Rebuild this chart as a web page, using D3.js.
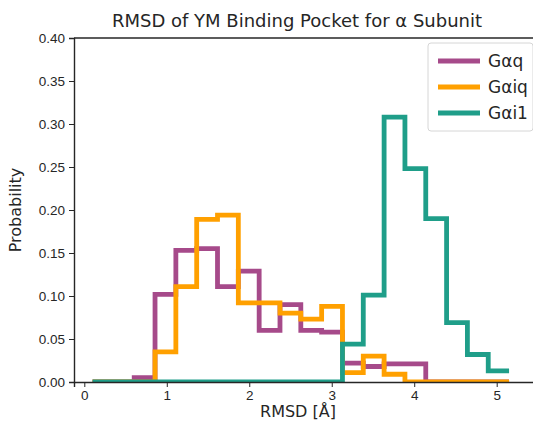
<!DOCTYPE html>
<html>
<head>
<meta charset="utf-8">
<script src="https://cdn.jsdelivr.net/npm/d3@7"></script>
<style>
  body { margin: 0; background: #fff; }
  svg { display: block; font-family: "DejaVu Sans", sans-serif; }
</style>
</head>
<body>
<div id="chart"></div>
<script>
// histogram bin edges (shared by all three series)
var binStart = 0.1;
var binWidth = 0.2525;
var binCount = 20;

var seriesNames = ["G\u03b1q", "G\u03b1iq", "G\u03b1i1"];
var seriesColors = ["#a64a8a", "#ffa000", "#1f9e89"];

// probability per bin
var galphaq = [0, 0, 0.005, 0.102, 0.153, 0.155, 0.111, 0.129, 0.060, 0.090,
               0.060, 0.058, 0.022, 0.018, 0.021, 0.021, 0, 0, 0, 0];
var galphaiq = [0, 0, 0, 0.035, 0.111, 0.189, 0.194, 0.092, 0.092, 0.080,
                0.073, 0.088, 0.011, 0.030, 0.009, 0, 0, 0, 0, 0];
var galphai1 = [0, 0, 0, 0, 0, 0, 0, 0, 0, 0,
                0, 0, 0.044, 0.101, 0.308, 0.248, 0.190, 0.069, 0.032, 0.013];

var xTicks = [0, 1, 2, 3, 4, 5];
var yTicks = [0, 0.05, 0.10, 0.15, 0.20, 0.25, 0.30, 0.35, 0.40];

var W = 533, H = 422;
var margin = {top: 38, right: -6, bottom: 40, left: 74};
var width = W - margin.left - margin.right,
    height = H - margin.top - margin.bottom;
var ink = "#262626";

var svg = d3.select("#chart").append("svg")
    .attr("width", W)
    .attr("height", H);

var g = svg.append("g")
    .attr("transform", "translate(" + margin.left + "," + margin.top + ")");

var x = d3.scaleLinear().domain([-0.125, 5.513]).range([0, width]);
var y = d3.scaleLinear().domain([0, 0.4]).range([height, 0]);

g.append("clipPath").attr("id", "plot-clip")
  .append("rect").attr("width", width).attr("height", height);

// step outline like matplotlib histtype='step'
function stepPoints(vals) {
    var pts = [[binStart, 0]];
    vals.forEach(function(v, i) {
        pts.push([binStart + i * binWidth, v]);
        pts.push([binStart + (i + 1) * binWidth, v]);
    });
    return pts;
}

var line = d3.line()
    .x(function(d) { return x(d[0]); })
    .y(function(d) { return y(d[1]); });

var plot = g.append("g").attr("clip-path", "url(#plot-clip)");
[galphaq, galphaiq, galphai1].forEach(function(vals, i) {
    plot.append("path")
        .datum(stepPoints(vals))
        .attr("fill", "none")
        .attr("stroke", seriesColors[i])
        .attr("stroke-width", 4.8)
        .attr("stroke-linejoin", "miter")
        .attr("d", line);
});

// axes
var xAxis = g.append("g")
    .attr("transform", "translate(0," + height + ")")
    .call(d3.axisBottom(x).tickValues(xTicks).tickFormat(d3.format("d")).tickSizeOuter(0).tickSize(5));
xAxis.selectAll("text").attr("dy", "0.85em").attr("y", 7);

var yAxis = g.append("g")
    .call(d3.axisLeft(y).tickValues(yTicks).tickFormat(d3.format(".2f")).tickSizeOuter(0).tickSize(5));
yAxis.selectAll("text").attr("x", -9);

g.selectAll(".tick text").attr("font-size", 13.5).attr("fill", ink);
g.selectAll(".tick line").attr("stroke", ink);
g.selectAll(".domain").attr("stroke", ink).attr("stroke-width", 1.4);

// top spine
g.append("line")
    .attr("x1", 0).attr("x2", width)
    .attr("y1", 0).attr("y2", 0)
    .attr("stroke", ink).attr("stroke-width", 1.4);

// labels
svg.append("text")
    .attr("x", 297).attr("y", 27)
    .attr("text-anchor", "middle")
    .attr("font-size", 18)
    .attr("fill", ink)
    .text("RMSD of YM Binding Pocket for \u03b1 Subunit");

svg.append("text")
    .attr("x", 298).attr("y", 417)
    .attr("text-anchor", "middle")
    .attr("font-size", 16)
    .attr("fill", ink)
    .text("RMSD [\u00c5]");

svg.append("text")
    .attr("transform", "translate(21," + (margin.top + height / 2) + ") rotate(-90)")
    .attr("text-anchor", "middle")
    .attr("font-size", 16)
    .attr("fill", ink)
    .text("Probability");

// legend
var legend = svg.append("g").attr("transform", "translate(428,43)");
legend.append("rect")
    .attr("width", 105).attr("height", 88)
    .attr("rx", 3)
    .attr("fill", "#fff").attr("fill-opacity", 0.85)
    .attr("stroke", "#d6d6d6");

seriesNames.forEach(function(name, i) {
    var ly = 18 + i * 26;
    legend.append("line")
        .attr("x1", 10).attr("x2", 52)
        .attr("y1", ly).attr("y2", ly)
        .attr("stroke", seriesColors[i])
        .attr("stroke-width", 4.8);
    legend.append("text")
        .attr("x", 60).attr("y", ly + 6)
        .attr("font-size", 17)
        .attr("fill", ink)
        .text(name);
});
</script>
</body>
</html>
